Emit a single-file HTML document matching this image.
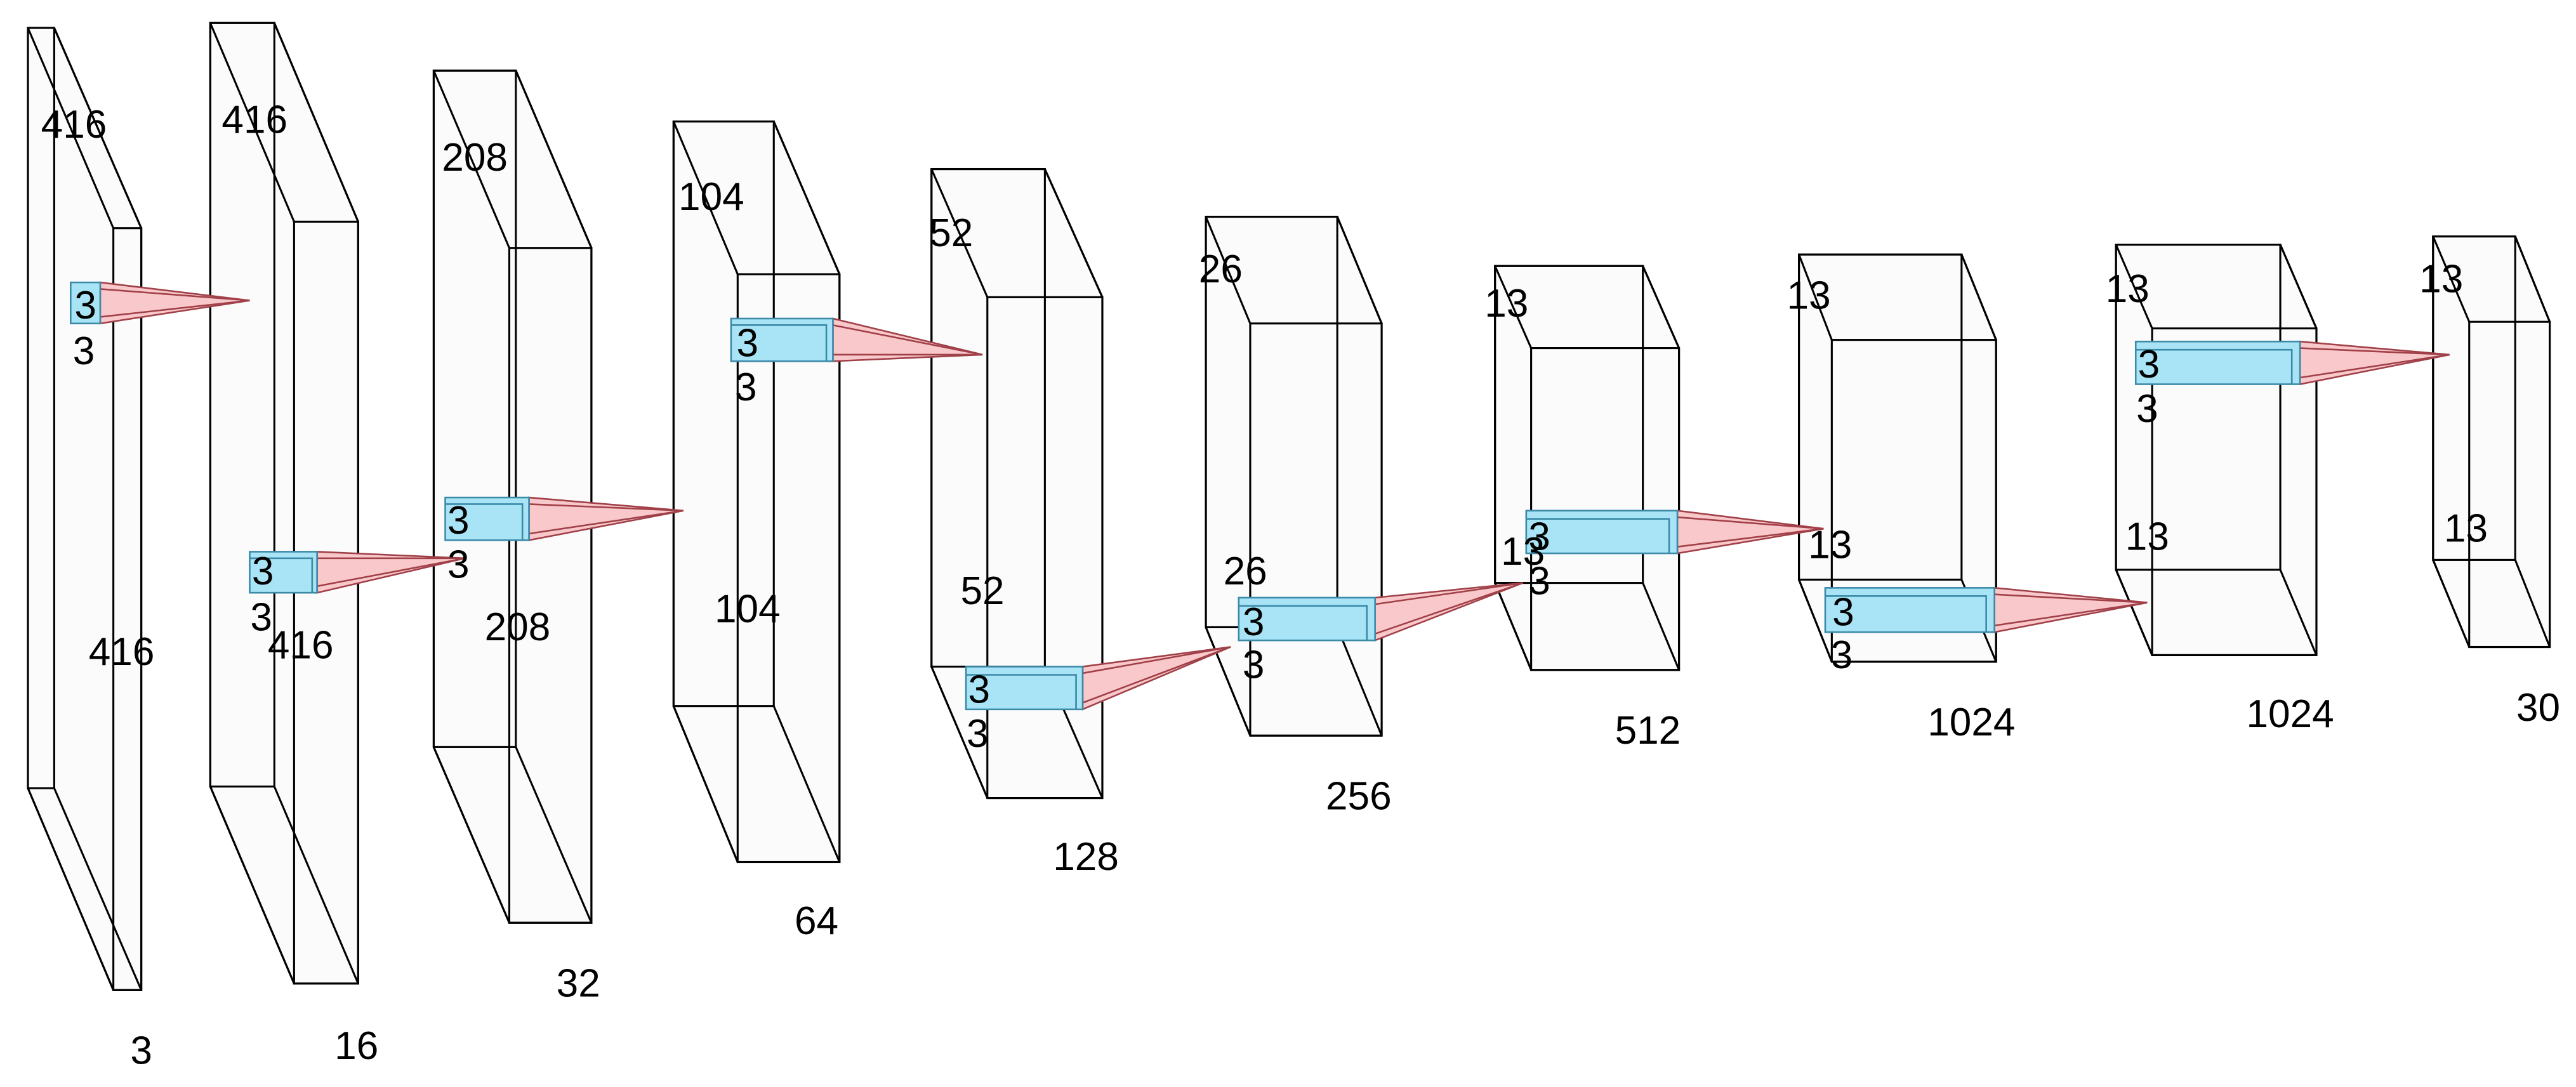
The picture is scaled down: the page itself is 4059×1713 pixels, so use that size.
<!DOCTYPE html>
<html><head><meta charset="utf-8"><style>html,body{margin:0;padding:0;background:#fff}svg{display:block}</style></head>
<body>
<svg width="4059" height="1713" viewBox="0 0 1568 662" preserveAspectRatio="none" xmlns="http://www.w3.org/2000/svg">
<g stroke="#000" stroke-width="1.2" fill="none">
<path fill="#fbfbfb" d="M17 17L33 17L86 139L86 603L69 603L17 480Z"/><rect x="17" y="17" width="16" height="463"/><rect x="69" y="139" width="17" height="464"/><path d="M17 17L69 139M33 17L86 139M17 480L69 603M33 480L86 603"/>
<path fill="#fbfbfb" d="M128 14L167 14L218 135L218 599L179 599L128 479Z"/><rect x="128" y="14" width="39" height="465"/><rect x="179" y="135" width="39" height="464"/><path d="M128 14L179 135M167 14L218 135M128 479L179 599M167 479L218 599"/>
<path fill="#fbfbfb" d="M264 43L314 43L360 151L360 562L310 562L264 455Z"/><rect x="264" y="43" width="50" height="412"/><rect x="310" y="151" width="50" height="411"/><path d="M264 43L310 151M314 43L360 151M264 455L310 562M314 455L360 562"/>
<path fill="#fbfbfb" d="M410 74L471 74L511 167L511 525L449 525L410 430Z"/><rect x="410" y="74" width="61" height="356"/><rect x="449" y="167" width="62" height="358"/><path d="M410 74L449 167M471 74L511 167M410 430L449 525M471 430L511 525"/>
<path fill="#fbfbfb" d="M567 103L636 103L671 181L671 486L601 486L567 406Z"/><rect x="567" y="103" width="69" height="303"/><rect x="601" y="181" width="70" height="305"/><path d="M567 103L601 181M636 103L671 181M567 406L601 486M636 406L671 486"/>
<path fill="#fbfbfb" d="M734 132L814 132L841 197L841 448L761 448L734 382Z"/><rect x="734" y="132" width="80" height="250"/><rect x="761" y="197" width="80" height="251"/><path d="M734 132L761 197M814 132L841 197M734 382L761 448M814 382L841 448"/>
<path fill="#fbfbfb" d="M910 162L1000 162L1022 212L1022 408L932 408L910 355Z"/><rect x="910" y="162" width="90" height="193"/><rect x="932" y="212" width="90" height="196"/><path d="M910 162L932 212M1000 162L1022 212M910 355L932 408M1000 355L1022 408"/>
<path fill="#fbfbfb" d="M1095 155L1194 155L1215 207L1215 403L1115 403L1095 353Z"/><rect x="1095" y="155" width="99" height="198"/><rect x="1115" y="207" width="100" height="196"/><path d="M1095 155L1115 207M1194 155L1215 207M1095 353L1115 403M1194 353L1215 403"/>
<path fill="#fbfbfb" d="M1288 149L1388 149L1410 200L1410 399L1310 399L1288 347Z"/><rect x="1288" y="149" width="100" height="198"/><rect x="1310" y="200" width="100" height="199"/><path d="M1288 149L1310 200M1388 149L1410 200M1288 347L1310 399M1388 347L1410 399"/>
<path fill="#fbfbfb" d="M1481 144L1531 144L1552 196L1552 394L1503 394L1481 341Z"/><rect x="1481" y="144" width="50" height="197"/><rect x="1503" y="196" width="49" height="198"/><path d="M1481 144L1503 196M1531 144L1552 196M1481 341L1503 394M1531 341L1552 394"/>
</g>
<g stroke-width="1">
<g><path d="M61 172L152 183L61 197Z" fill="#f9c8ca" stroke="#a04048"/><path d="M61 176L152 183L61 193" stroke="#a04048" fill="none"/><rect x="43" y="172" width="18" height="25" fill="#a8e4f5" stroke="#3a8aa8"/></g>
<g><path d="M193 336L283 340L193 361Z" fill="#f9c8ca" stroke="#a04048"/><path d="M193 340L283 340L193 357" stroke="#a04048" fill="none"/><rect x="152" y="336" width="41" height="25" fill="#a8e4f5" stroke="#3a8aa8"/><path d="M152 340L190 340L190 361" stroke="#3a8aa8" fill="none"/></g>
<g><path d="M322 303L416 311L322 329Z" fill="#f9c8ca" stroke="#a04048"/><path d="M322 307L416 311L322 325" stroke="#a04048" fill="none"/><rect x="271" y="303" width="51" height="26" fill="#a8e4f5" stroke="#3a8aa8"/><path d="M271 307L318 307L318 329" stroke="#3a8aa8" fill="none"/></g>
<g><path d="M507 194L598 216L507 220Z" fill="#f9c8ca" stroke="#a04048"/><path d="M507 198L598 216L507 216" stroke="#a04048" fill="none"/><rect x="445" y="194" width="62" height="26" fill="#a8e4f5" stroke="#3a8aa8"/><path d="M445 198L503 198L503 220" stroke="#3a8aa8" fill="none"/></g>
<g><path d="M659 406L749 394L659 432Z" fill="#f9c8ca" stroke="#a04048"/><path d="M659 410L749 394L659 428" stroke="#a04048" fill="none"/><rect x="588" y="406" width="71" height="26" fill="#a8e4f5" stroke="#3a8aa8"/><path d="M588 411L655 411L655 432" stroke="#3a8aa8" fill="none"/></g>
<g><path d="M837 364L927 355L837 390Z" fill="#f9c8ca" stroke="#a04048"/><path d="M837 368L927 355L837 386" stroke="#a04048" fill="none"/><rect x="754" y="364" width="83" height="26" fill="#a8e4f5" stroke="#3a8aa8"/><path d="M754 369L832 369L832 390" stroke="#3a8aa8" fill="none"/></g>
<g><path d="M1021 311L1110 322L1021 337Z" fill="#f9c8ca" stroke="#a04048"/><path d="M1021 315L1110 322L1021 333" stroke="#a04048" fill="none"/><rect x="929" y="311" width="92" height="26" fill="#a8e4f5" stroke="#3a8aa8"/><path d="M929 316L1016 316L1016 337" stroke="#3a8aa8" fill="none"/></g>
<g><path d="M1214 358L1307 367L1214 385Z" fill="#f9c8ca" stroke="#a04048"/><path d="M1214 362L1307 367L1214 381" stroke="#a04048" fill="none"/><rect x="1111" y="358" width="103" height="27" fill="#a8e4f5" stroke="#3a8aa8"/><path d="M1111 363L1209 363L1209 385" stroke="#3a8aa8" fill="none"/></g>
<g><path d="M1400 208L1491 216L1400 234Z" fill="#f9c8ca" stroke="#a04048"/><path d="M1400 212L1491 216L1400 230" stroke="#a04048" fill="none"/><rect x="1300" y="208" width="100" height="26" fill="#a8e4f5" stroke="#3a8aa8"/><path d="M1300 213L1395 213L1395 234" stroke="#3a8aa8" fill="none"/></g>
</g>
<g font-family="Liberation Sans, sans-serif" font-size="24" fill="#000" text-anchor="middle" dominant-baseline="central">
<text x="45" y="76">416</text><text x="52" y="186">3</text><text x="51" y="214">3</text><text x="74" y="397">416</text><text x="86" y="640">3</text>
<text x="155" y="73">416</text><text x="160" y="348">3</text><text x="159" y="376">3</text><text x="183" y="393">416</text><text x="217" y="637">16</text>
<text x="289" y="96">208</text><text x="279" y="317">3</text><text x="279" y="344">3</text><text x="315" y="382">208</text><text x="352" y="599">32</text>
<text x="433" y="120">104</text><text x="455" y="209">3</text><text x="454" y="236">3</text><text x="455" y="371">104</text><text x="497" y="561">64</text>
<text x="579" y="142">52</text><text x="598" y="360">52</text><text x="596" y="420">3</text><text x="595" y="447">3</text><text x="661" y="522">128</text>
<text x="743" y="164">26</text><text x="758" y="348">26</text><text x="763" y="379">3</text><text x="763" y="405">3</text><text x="827" y="485">256</text>
<text x="917" y="185">13</text><text x="927" y="336">13</text><text x="937" y="327">3</text><text x="937" y="354">3</text><text x="1003" y="445">512</text>
<text x="1101" y="180">13</text><text x="1114" y="332">13</text><text x="1122" y="373">3</text><text x="1121" y="399">3</text><text x="1200" y="440">1024</text>
<text x="1295" y="176">13</text><text x="1307" y="327">13</text><text x="1308" y="222">3</text><text x="1307" y="249">3</text><text x="1394" y="435">1024</text>
<text x="1486" y="170">13</text><text x="1501" y="322">13</text><text x="1545" y="431">30</text>
</g>
</svg>
</body></html>
